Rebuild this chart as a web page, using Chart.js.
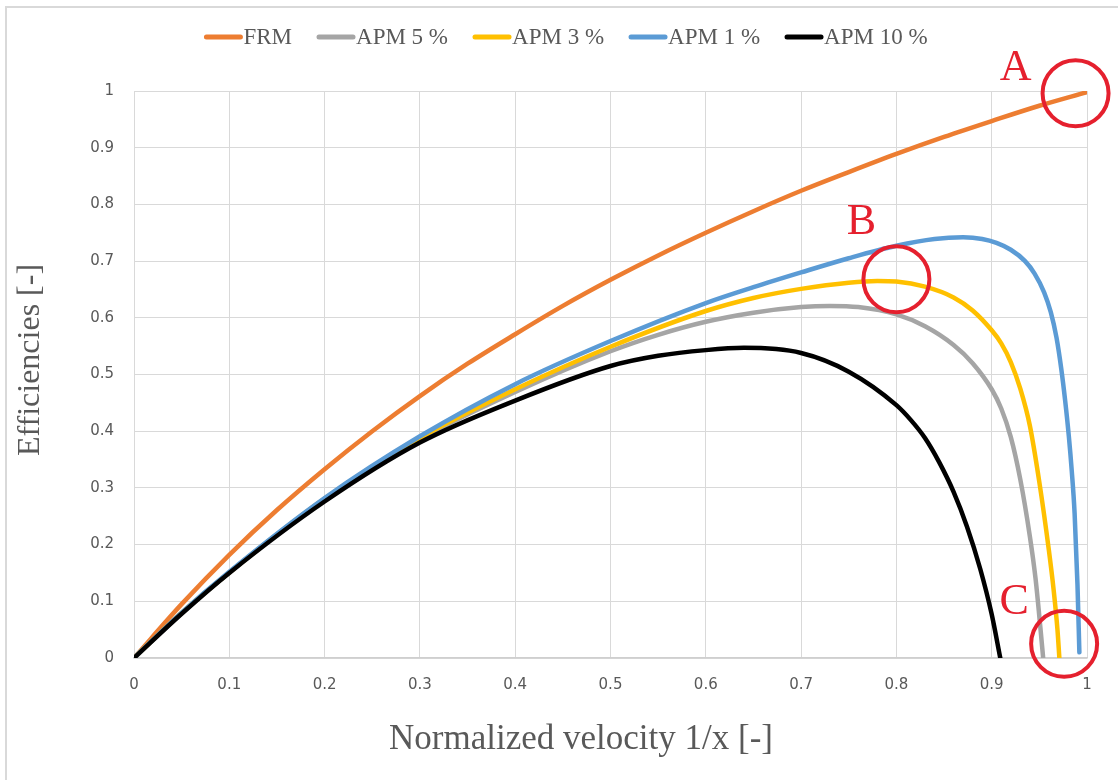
<!DOCTYPE html>
<html>
<head>
<meta charset="utf-8">
<script src="https://cdn.jsdelivr.net/npm/chart.js@4.4.1/dist/chart.umd.min.js"></script>
<style>
  body { margin: 0; background: #ffffff; }
  #wrap { width: 1118px; height: 780px; position: relative; }
</style>
</head>
<body>
<div id="wrap"><canvas id="chart"></canvas></div>
<script>
// values
const seriesNames = ['FRM', 'APM 5 %', 'APM 3 %', 'APM 1 %', 'APM 10 %'];

const frmX = [0, 0.05, 0.1, 0.15, 0.2, 0.25, 0.3, 0.35, 0.4, 0.45, 0.5, 0.55, 0.6, 0.65, 0.7, 0.75, 0.8, 0.85, 0.9, 0.95, 1];
const frmY = [0, 0.095, 0.182, 0.261, 0.333, 0.4, 0.462, 0.519, 0.571, 0.621, 0.667, 0.71, 0.75, 0.788, 0.824, 0.857, 0.889, 0.919, 0.947, 0.974, 0.998];

const apm5X = [0, 0.05, 0.1, 0.2, 0.3, 0.4, 0.5, 0.55, 0.6, 0.65, 0.7, 0.73, 0.76, 0.8, 0.83, 0.86, 0.88, 0.9, 0.91, 0.92, 0.93, 0.94, 0.946, 0.951, 0.954];
const apm5Y = [0, 0.079, 0.151, 0.28, 0.386, 0.469, 0.541, 0.57, 0.593, 0.609, 0.619, 0.621, 0.619, 0.606, 0.585, 0.552, 0.52, 0.474, 0.44, 0.39, 0.315, 0.215, 0.14, 0.055, 0];

const apm3X = [0, 0.05, 0.1, 0.2, 0.3, 0.4, 0.5, 0.6, 0.65, 0.7, 0.75, 0.78, 0.8, 0.83, 0.86, 0.88, 0.9, 0.91, 0.92, 0.93, 0.94, 0.95, 0.96, 0.965, 0.969, 0.971];
const apm3Y = [0, 0.08, 0.151, 0.281, 0.388, 0.474, 0.549, 0.612, 0.635, 0.651, 0.662, 0.665, 0.664, 0.655, 0.636, 0.613, 0.578, 0.555, 0.522, 0.475, 0.41, 0.31, 0.19, 0.12, 0.05, 0];

const apm1X = [0, 0.05, 0.1, 0.2, 0.3, 0.4, 0.5, 0.6, 0.65, 0.7, 0.75, 0.8, 0.84, 0.87, 0.89, 0.905, 0.92, 0.935, 0.945, 0.955, 0.962, 0.968, 0.973, 0.977, 0.981, 0.984, 0.987, 0.99, 0.992];
const apm1Y = [0, 0.08, 0.152, 0.282, 0.391, 0.483, 0.559, 0.626, 0.654, 0.68, 0.705, 0.727, 0.739, 0.742, 0.739, 0.732, 0.72, 0.7, 0.678, 0.645, 0.61, 0.565, 0.51, 0.455, 0.39, 0.33, 0.255, 0.13, 0.01];

const apm10X = [0, 0.05, 0.1, 0.2, 0.3, 0.4, 0.5, 0.55, 0.6, 0.64, 0.7, 0.75, 0.8, 0.815, 0.83, 0.845, 0.86, 0.874, 0.888, 0.9, 0.909];
const apm10Y = [0, 0.078, 0.15, 0.276, 0.38, 0.454, 0.515, 0.533, 0.543, 0.547, 0.538, 0.505, 0.446, 0.42, 0.388, 0.345, 0.293, 0.232, 0.157, 0.077, 0];

const xTicks = [0, 0.1, 0.2, 0.3, 0.4, 0.5, 0.6, 0.7, 0.8, 0.9, 1];
const yTicks = [0, 0.1, 0.2, 0.3, 0.4, 0.5, 0.6, 0.7, 0.8, 0.9, 1];

// the red circled points A, B, C
const markLabels = ['A', 'B', 'C'];
const markX = [0.988, 0.8, 0.976];
const markY = [0.996, 0.668, 0.025];

const toPoints = (xs, ys) => xs.map((x, i) => ({ x: x, y: ys[i] }));

const grey = '#595959';
const red = '#E5202E';

function line(label, xs, ys, color, order) {
  return {
    label: label,
    data: toPoints(xs, ys),
    borderColor: color,
    backgroundColor: color,
    borderWidth: 4.5,
    borderCapStyle: 'round',
    pointRadius: 0,
    cubicInterpolationMode: 'monotone',
    order: order,
  };
}

const legendPlugin = {
  id: 'topLegend',
  afterDraw(chart) {
    const ctx = chart.ctx;
    ctx.save();
    ctx.font = '23px "Liberation Serif"';
    ctx.textBaseline = 'middle';
    const lineLen = 38, gap = 25, y = 37;
    const items = chart.data.datasets.map(ds => ({ ds, w: lineLen + 1 + ctx.measureText(ds.label).width }));
    const total = items.reduce((s, it) => s + it.w, 0) + gap * (items.length - 1);
    let x = 566 - total / 2;
    items.forEach(it => {
      ctx.strokeStyle = it.ds.borderColor;
      ctx.lineWidth = 5;
      ctx.lineCap = 'round';
      ctx.beginPath();
      ctx.moveTo(x + 2, y);
      ctx.lineTo(x + lineLen - 2, y);
      ctx.stroke();
      ctx.fillStyle = grey;
      ctx.fillText(it.ds.label, x + lineLen + 1, y + 1);
      x += it.w + gap;
    });
    ctx.restore();
  }
};

const decorPlugin = {
  id: 'decor',
  afterDraw(chart) {
    const ctx = chart.ctx;
    const xs = chart.scales.x, ys = chart.scales.y;
    ctx.save();
    // frame edges visible in the reference
    ctx.strokeStyle = '#D9D9D9';
    ctx.lineWidth = 2;
    ctx.beginPath();
    ctx.moveTo(6, 780);
    ctx.lineTo(6, 7);
    ctx.lineTo(1118, 7);
    ctx.stroke();

    // axis titles
    ctx.fillStyle = grey;
    ctx.textAlign = 'center';
    ctx.textBaseline = 'middle';
    ctx.font = '35px "Liberation Serif"';
    ctx.fillText('Normalized velocity 1/x [-]', 581, 740);
    ctx.save();
    ctx.translate(31, 360);
    ctx.rotate(-Math.PI / 2);
    ctx.font = '32px "Liberation Serif"';
    ctx.fillText('Efficiencies [-]', 0, 0);
    ctx.restore();

    // circles and letters
    ctx.strokeStyle = red;
    ctx.fillStyle = red;
    ctx.lineWidth = 4;
    ctx.font = '44px "Liberation Serif"';
    ctx.textBaseline = 'alphabetic';
    const letterDx = [-60, -35, -50];
    const letterDy = [-13, -45, -30];
    markLabels.forEach((m, i) => {
      const px = xs.getPixelForValue(markX[i]);
      const py = ys.getPixelForValue(markY[i]);
      ctx.beginPath();
      ctx.arc(px, py, 33, 0, Math.PI * 2);
      ctx.stroke();
      ctx.fillText(m, px + letterDx[i], py + letterDy[i]);
    });
    ctx.restore();
  }
};

const tickFont = { family: '"DejaVu Sans"', size: 15 };
const fmt = v => String(Number(v.toFixed(1)));

new Chart(document.getElementById('chart'), {
  type: 'line',
  data: {
    datasets: [
      line(seriesNames[0], frmX, frmY, '#ED7D31', 4),
      line(seriesNames[1], apm5X, apm5Y, '#A5A5A5', 3),
      line(seriesNames[2], apm3X, apm3Y, '#FFC000', 2),
      line(seriesNames[3], apm1X, apm1Y, '#5B9BD5', 1),
      line(seriesNames[4], apm10X, apm10Y, '#000000', 0),
    ]
  },
  options: {
    responsive: true,
    maintainAspectRatio: false,
    animation: false,
    layout: { padding: { top: 91, right: 31, left: 0, bottom: 0 } },
    plugins: {
      legend: { display: false },
      tooltip: { enabled: false },
    },
    scales: {
      x: {
        type: 'linear',
        min: 0,
        max: 1,
        afterBuildTicks: s => { s.ticks = xTicks.map(v => ({ value: v })); },
        afterFit: s => { s.height = 122; },
        ticks: { color: grey, font: tickFont, padding: 18, maxRotation: 0, callback: fmt },
        grid: { color: '#D9D9D9', drawTicks: false },
        border: { color: '#CFCFCF', width: 1.5 },
      },
      y: {
        min: 0,
        max: 1,
        afterBuildTicks: s => { s.ticks = yTicks.map(v => ({ value: v })); },
        afterFit: s => { s.width = 134; },
        ticks: { color: grey, font: tickFont, padding: 20, callback: fmt },
        grid: { color: '#D9D9D9', drawTicks: false },
        border: { color: '#D9D9D9' },
      }
    }
  },
  plugins: [legendPlugin, decorPlugin]
});
</script>
</body>
</html>
